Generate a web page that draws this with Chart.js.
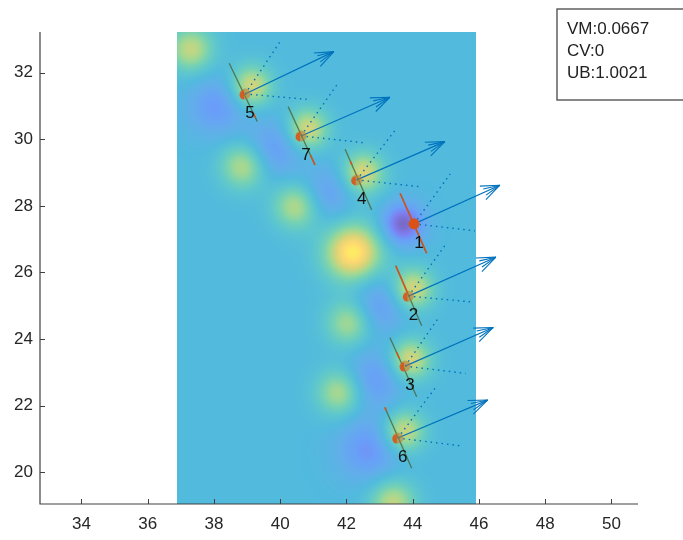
<!DOCTYPE html>
<html>
<head>
<meta charset="utf-8">
<script src="https://cdn.jsdelivr.net/npm/chart.js@4.4.1/dist/chart.umd.min.js"></script>
<style>
  body { margin: 0; background: #fff; }
  canvas { display: block; }
</style>
</head>
<body>
<canvas id="myChart" width="683" height="540"></canvas>
<script>
// axes
const xTicks = [34, 36, 38, 40, 42, 44, 46, 48, 50];
const yTicks = [20, 22, 24, 26, 28, 30, 32];
const xRange = [32.75, 50.8];
const yRange = [19.05, 33.22];
const imageX = [36.9, 45.9];

// sensors 1..7
const sensorIds = ['1', '2', '3', '4', '5', '6', '7'];
const sensorX = [44.04, 43.87, 43.77, 42.31, 38.94, 43.55, 40.63];
const sensorY = [27.46, 25.29, 23.19, 28.78, 31.36, 21.03, 30.10];
const arrowTipX = [46.63, 46.51, 46.43, 44.97, 41.62, 46.26, 43.31];
const arrowTipY = [28.62, 26.46, 24.35, 29.93, 32.63, 22.17, 31.26];
const fovUpX = [45.13, 44.98, 44.80, 43.49, 39.99, 44.72, 41.71];
const fovUpY = [28.96, 26.82, 24.67, 30.30, 32.92, 22.59, 31.63];
const fovFlatX = [45.88, 45.73, 45.60, 44.17, 40.80, 45.43, 42.49];
const fovFlatY = [27.25, 25.12, 22.97, 28.58, 31.20, 20.80, 29.90];
const segTopX = [43.62, 43.49, 43.31, 41.96, 38.46, 43.16, 40.24];
const segTopY = [28.38, 26.20, 24.05, 29.70, 32.28, 21.95, 30.98];
const segBotX = [44.42, 44.27, 44.12, 42.76, 39.31, 43.97, 41.05];
const segBotY = [26.58, 24.40, 22.27, 27.88, 30.53, 20.12, 29.23];
// part of each segment drawn red (0 = top end, 1 = bottom end)
const redFrom = [0, 0, 0.25, 0.2, 0.85, 0, 0.83];
const redTo = [1, 0.45, 0.35, 0.26, 0.93, 0.06, 1];

const statLines = ['VM:0.0667', 'CV:0', 'UB:1.0021'];

// heat field: background level plus bumps
const fieldBase = 0.4;
const bumpX = [37.3, 38.9, 40.5, 42.2, 42.1, 41.8, 43.4,
               38.1, 39.8, 41.4, 43.7, 42.95, 42.85, 42.7,
               44.0, 43.92, 42.5, 39.12, 43.72, 40.82];
const bumpY = [32.7, 29.2, 28.0, 26.6, 24.5, 22.4, 19.1,
               31.0, 29.7, 28.35, 27.45, 25.0, 22.8, 20.7,
               25.5, 23.38, 28.98, 31.58, 21.22, 30.3];
const bumpAmp = [0.36, 0.36, 0.36, 0.56, 0.34, 0.34, 0.36,
                 -0.22, -0.22, -0.2, -0.4, -0.22, -0.22, -0.24,
                 0.42, 0.42, 0.42, 0.42, 0.42, 0.42];
const bumpSize = [0.5, 0.5, 0.5, 0.62, 0.5, 0.5, 0.5,
                  0.62, 0.62, 0.58, 0.45, 0.62, 0.62, 0.68,
                  0.45, 0.45, 0.45, 0.45, 0.45, 0.45];

const FONT = 'Liberation Sans, Arial, sans-serif';

const parula = [
  [62, 38, 168], [71, 71, 235], [40, 118, 245], [31, 139, 225], [7, 156, 207],
  [24, 174, 185], [58, 190, 148], [125, 199, 98], [202, 193, 61], [254, 200, 51],
  [249, 251, 14]
];

function parulaColor(v) {
  v = Math.max(0, Math.min(1, v)) * 10;
  const i = Math.min(9, Math.floor(v));
  const t = v - i;
  const a = parula[i], b = parula[i + 1];
  // image shown at 0.7 alpha over white
  return a.map((c, k) => (c + (b[k] - c) * t) * 0.7 + 255 * 0.3);
}

function pairs(ax, ay, bx, by) {
  const out = [];
  for (let i = 0; i < ax.length; i++) {
    out.push({x: ax[i], y: ay[i]}, {x: bx[i], y: by[i]}, {x: bx[i], y: null});
  }
  return out;
}

let fieldCanvas = null;

function drawField(chart) {
  const xs = chart.scales.x, ys = chart.scales.y, ctx = chart.ctx;
  const left = Math.round(xs.getPixelForValue(imageX[0]));
  const right = Math.round(xs.getPixelForValue(imageX[1]));
  const top = Math.round(ys.getPixelForValue(yRange[1]));
  const bottom = Math.round(ys.getPixelForValue(yRange[0]));
  if (!fieldCanvas) {
    const w = right - left, h = bottom - top;
    fieldCanvas = document.createElement('canvas');
    fieldCanvas.width = w;
    fieldCanvas.height = h;
    const fctx = fieldCanvas.getContext('2d');
    const img = fctx.createImageData(w, h);
    for (let py = 0; py < h; py++) {
      const vy = ys.getValueForPixel(top + py + 0.5);
      for (let px = 0; px < w; px++) {
        const vx = xs.getValueForPixel(left + px + 0.5);
        let v = fieldBase;
        for (let k = 0; k < bumpX.length; k++) {
          const dx = vx - bumpX[k], dy = vy - bumpY[k];
          v += bumpAmp[k] * Math.exp(-(dx * dx + dy * dy) / (2 * bumpSize[k] * bumpSize[k]));
        }
        const c = parulaColor(v);
        const o = (py * w + px) * 4;
        img.data[o] = c[0];
        img.data[o + 1] = c[1];
        img.data[o + 2] = c[2];
        img.data[o + 3] = 255;
      }
    }
    fctx.putImageData(img, 0, 0);
  }
  ctx.drawImage(fieldCanvas, left, top);
}

function drawRedParts(chart) {
  const xs = chart.scales.x, ys = chart.scales.y, ctx = chart.ctx;
  ctx.save();
  ctx.strokeStyle = '#D95319';
  ctx.lineWidth = 1.5;
  for (let i = 0; i < sensorX.length; i++) {
    const x0 = xs.getPixelForValue(segTopX[i]), y0 = ys.getPixelForValue(segTopY[i]);
    const x1 = xs.getPixelForValue(segBotX[i]), y1 = ys.getPixelForValue(segBotY[i]);
    ctx.beginPath();
    ctx.moveTo(x0 + (x1 - x0) * redFrom[i], y0 + (y1 - y0) * redFrom[i]);
    ctx.lineTo(x0 + (x1 - x0) * redTo[i], y0 + (y1 - y0) * redTo[i]);
    ctx.stroke();
  }
  ctx.restore();
}

function drawHeads(chart) {
  const xs = chart.scales.x, ys = chart.scales.y, ctx = chart.ctx;
  ctx.save();
  ctx.strokeStyle = '#0072BD';
  ctx.lineWidth = 1.1;
  for (let i = 0; i < sensorX.length; i++) {
    const sx = xs.getPixelForValue(sensorX[i]), sy = ys.getPixelForValue(sensorY[i]);
    const tx = xs.getPixelForValue(arrowTipX[i]), ty = ys.getPixelForValue(arrowTipY[i]);
    const a = Math.atan2(ty - sy, tx - sx);
    [[0.38, 20], [0.2, 17], [-0.2, 17], [-0.38, 20]].forEach(([s, len]) => {
      ctx.beginPath();
      ctx.moveTo(tx, ty);
      ctx.lineTo(tx - len * Math.cos(a + s), ty - len * Math.sin(a + s));
      ctx.stroke();
    });
  }
  ctx.restore();
}

function drawMarkerParts(chart) {
  const xs = chart.scales.x, ys = chart.scales.y, ctx = chart.ctx;
  ctx.save();
  ctx.fillStyle = 'rgba(217,83,25,0.85)';
  for (let i = 1; i < sensorX.length; i++) {
    const px = xs.getPixelForValue(sensorX[i]), py = ys.getPixelForValue(sensorY[i]);
    ctx.beginPath();
    ctx.arc(px - 1, py + 1, 4.5, Math.PI * 0.5, Math.PI * 1.5);
    ctx.closePath();
    ctx.fill();
  }
  ctx.fillStyle = '#111';
  ctx.font = '17px ' + FONT;
  ctx.textAlign = 'center';
  ctx.textBaseline = 'middle';
  for (let i = 0; i < sensorX.length; i++) {
    const px = xs.getPixelForValue(sensorX[i]), py = ys.getPixelForValue(sensorY[i]);
    ctx.fillText(sensorIds[i], px + 5, py + 19);
  }
  ctx.restore();
}

function drawAxes(chart) {
  const xs = chart.scales.x, ys = chart.scales.y, ctx = chart.ctx;
  const a = chart.chartArea;
  ctx.save();
  ctx.strokeStyle = '#404040';
  ctx.lineWidth = 1.2;
  ctx.beginPath();
  ctx.moveTo(a.left, a.top);
  ctx.lineTo(a.left, a.bottom);
  ctx.lineTo(a.right, a.bottom);
  ctx.stroke();
  ctx.lineWidth = 1;
  ctx.beginPath();
  xTicks.forEach(v => {
    const p = Math.round(xs.getPixelForValue(v)) + 0.5;
    ctx.moveTo(p, a.bottom);
    ctx.lineTo(p, a.bottom - 5);
  });
  yTicks.forEach(v => {
    const p = Math.round(ys.getPixelForValue(v)) + 0.5;
    ctx.moveTo(a.left, p);
    ctx.lineTo(a.left + 5, p);
  });
  ctx.stroke();

  // stats box
  ctx.fillStyle = '#fff';
  ctx.strokeStyle = '#555';
  ctx.lineWidth = 1.4;
  ctx.fillRect(557, 9, 140, 91);
  ctx.strokeRect(557, 9, 140, 91);
  ctx.fillStyle = '#222';
  ctx.font = '17px ' + FONT;
  ctx.textAlign = 'left';
  ctx.textBaseline = 'middle';
  statLines.forEach((t, i) => ctx.fillText(t, 567, 29 + i * 22));
  ctx.restore();
}

const mapPlugin = {
  id: 'mapPlugin',
  beforeDatasetsDraw(chart) { drawField(chart); },
  afterDatasetDraw(chart, args) {
    const role = chart.data.datasets[args.index].role;
    if (role === 'segments') drawRedParts(chart);
    if (role === 'arrows') drawHeads(chart);
  },
  afterDatasetsDraw(chart) { drawMarkerParts(chart); },
  afterDraw(chart) { drawAxes(chart); }
};

const sensorData = sensorX.map((x, i) => ({x: x, y: sensorY[i]}));

new Chart(document.getElementById('myChart'), {
  type: 'scatter',
  data: {
    datasets: [
      {
        role: 'sensors',
        data: sensorData,
        order: 0,
        pointRadius: 5.5,
        pointBorderWidth: 0,
        pointBackgroundColor: sensorX.map((_, i) => i === 0 ? '#D95319' : 'rgba(190,120,50,0.55)')
      },
      {
        role: 'segments',
        data: pairs(segTopX, segTopY, segBotX, segBotY),
        order: 1,
        showLine: true,
        pointRadius: 0,
        borderColor: 'rgba(70,95,50,0.75)',
        borderWidth: 1.3
      },
      {
        role: 'arrows',
        data: pairs(sensorX, sensorY, arrowTipX, arrowTipY),
        order: 2,
        showLine: true,
        pointRadius: 0,
        borderColor: '#0072BD',
        borderWidth: 1.2
      },
      {
        role: 'fov',
        data: pairs(sensorX, sensorY, fovUpX, fovUpY).concat(pairs(sensorX, sensorY, fovFlatX, fovFlatY)),
        order: 3,
        showLine: true,
        pointRadius: 0,
        borderColor: '#0072BD',
        borderWidth: 1.4,
        borderDash: [1.5, 4]
      }
    ]
  },
  options: {
    responsive: false,
    devicePixelRatio: 1,
    animation: false,
    layout: { padding: { left: 0, top: 32, right: 45, bottom: 0 } },
    plugins: { legend: { display: false }, tooltip: { enabled: false } },
    scales: {
      x: {
        type: 'linear',
        min: xRange[0],
        max: xRange[1],
        grid: { display: false, drawTicks: false },
        border: { display: false },
        afterBuildTicks: s => { s.ticks = xTicks.map(v => ({value: v})); },
        afterFit: s => { s.height = 36; },
        ticks: { color: '#262626', font: { family: FONT, size: 17 }, padding: 10, maxRotation: 0, autoSkip: false }
      },
      y: {
        type: 'linear',
        min: yRange[0],
        max: yRange[1],
        grid: { display: false, drawTicks: false },
        border: { display: false },
        afterBuildTicks: s => { s.ticks = yTicks.map(v => ({value: v})); },
        afterFit: s => { s.width = 40; },
        ticks: { color: '#262626', font: { family: FONT, size: 17 }, padding: 7, autoSkip: false }
      }
    }
  },
  plugins: [mapPlugin]
});
</script>
</body>
</html>
